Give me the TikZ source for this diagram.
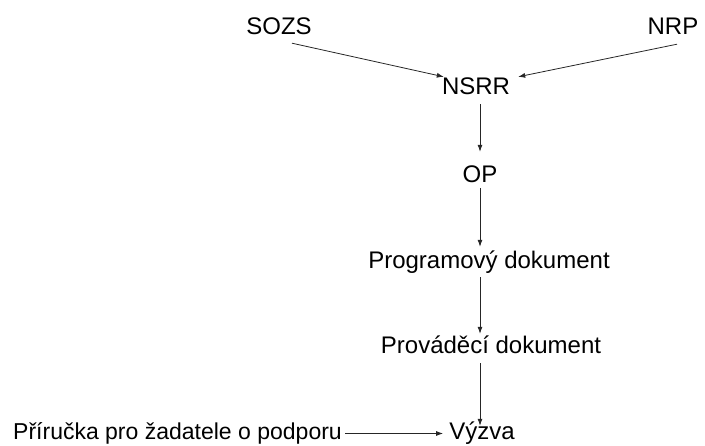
\documentclass[tikz,border=0pt]{standalone}
\usepackage{fontspec}
\setmainfont{Liberation Sans}
\usetikzlibrary{arrows.meta}

\begin{document}
\begin{tikzpicture}[x=1pt, y=-1pt,
  lbl/.style={inner sep=0, anchor=base, text height=18pt, text depth=5pt,
              font=\fontsize{24}{28}\selectfont},
  arr/.style={-{Latex[length=7pt,width=5pt]}, line width=0.8pt, black!85}]
\useasboundingbox (0,0) rectangle (705,446);

\node[lbl] (sozs) at (279,35) {SOZS};
\node[lbl] (nrp) at (673,35) {NRP};
\node[lbl] (nsrr) at (476,95) {NSRR};
\node[lbl] (op) at (480,183) {OP};
\node[lbl] (prog) at (489,269) {Programový dokument};
\node[lbl] (prov) at (491,354) {Prováděcí dokument};
\node[lbl] (vyzva) at (482,440) {Výzva};
\node[lbl, anchor=base east, font=\fontsize{23}{28}\selectfont] (prir) at (342,440) {Příručka pro žadatele o podporu};

\draw[arr] ([xshift=13pt,yshift=-3pt]sozs.south) -- ([xshift=2pt]nsrr.north west);
\draw[arr] ([xshift=4pt,yshift=-4pt]nrp.south) -- ([xshift=8pt]nsrr.north east);

\draw[arr] ([yshift=-4pt]nsrr.south -| op) -- ([yshift=13pt]op.north);
\draw[arr] (op.south) -- ([yshift=4pt]prog.north -| op);
\draw[arr] ([yshift=-3pt]prog.south -| op) -- ([yshift=2pt]prov.north -| op);
\draw[arr] ([yshift=-4pt]prov.south -| op) -- ([yshift=-4pt]vyzva.north -| op);
\draw[arr, shorten <=3pt, shorten >=6pt] (prir.east) -- (vyzva.west);
\end{tikzpicture}
\end{document}
